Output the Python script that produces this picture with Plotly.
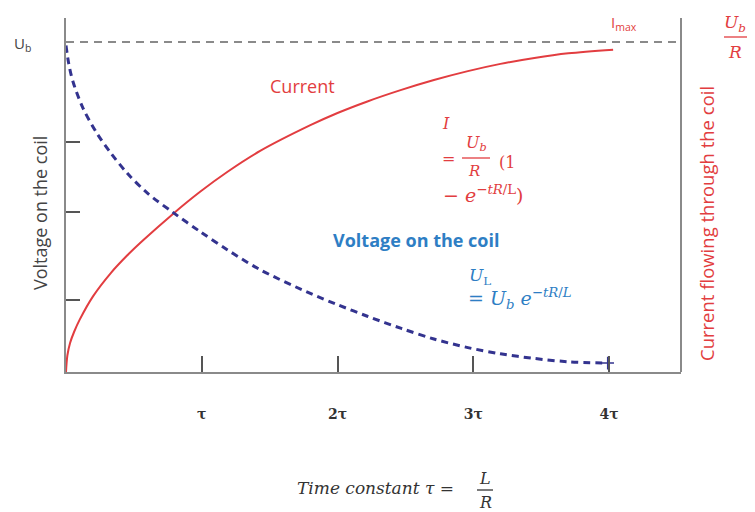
import plotly.graph_objects as go

# ---- data (time in units of tau, values relative to Ub or Ub/R) ----
current_t = [0.0, 0.01, 0.03, 0.06, 0.10, 0.20, 0.33, 0.45, 0.57, 0.79, 0.99, 1.19, 1.43,
             1.80, 2.00, 2.22, 2.47, 2.71, 2.96, 3.20, 3.45, 3.70, 4.03]
current_v = [0.0, 0.050, 0.088, 0.122, 0.158, 0.230, 0.300, 0.353, 0.400, 0.480, 0.547,
             0.607, 0.670, 0.748, 0.785, 0.820, 0.855, 0.885, 0.912, 0.934, 0.952, 0.966,
             0.977]

voltage_t = [0.0, 0.02, 0.05, 0.125, 0.23, 0.33, 0.45, 0.60, 0.79, 0.99, 1.19, 1.43, 1.80,
             2.00, 2.22, 2.47, 2.71, 2.96, 3.20, 3.45, 3.70, 3.99]
voltage_v = [0.99, 0.935, 0.882, 0.800, 0.722, 0.664, 0.603, 0.542, 0.483, 0.425, 0.370,
             0.310, 0.238, 0.204, 0.169, 0.132, 0.100, 0.074, 0.055, 0.041, 0.031, 0.027]

x_tick_vals = [1, 2, 3, 4]
x_tick_text = ["τ", "2τ", "3τ", "4τ"]
y_tick_vals = [0.218, 0.485, 0.697]
ub_level = 1.0

X_RANGE = [0, 4.53]
Y_RANGE = [0, 1.073]

RED = "#e23d40"
NAVY = "#33338f"
BLUE_TXT = "#2e7ec4"
GRAY = "#8a8a8a"
TXT = "#4a4a4a"
SER = "DejaVu Serif"
SANS = "Open Sans"

# plot area in pixels
L, R, T, B = 66, 681, 18, 372
W, H = 755, 512


def px(x):
    return (x - L) / (R - L)


def py(y):
    return (B - y) / (B - T)


fig = go.Figure()

fig.add_trace(go.Scatter(
    x=current_t, y=current_v, mode="lines",
    line=dict(color=RED, width=2, shape="spline", smoothing=0.9),
    hoverinfo="skip", showlegend=False))

fig.add_trace(go.Scatter(
    x=voltage_t, y=voltage_v, mode="lines",
    line=dict(color=NAVY, width=3, dash="7px,5px", shape="spline", smoothing=0.9),
    hoverinfo="skip", showlegend=False))

# end marker on the voltage curve
fig.add_trace(go.Scatter(
    x=voltage_t[-1:], y=voltage_v[-1:], mode="markers",
    marker=dict(symbol="cross-thin", size=9, line=dict(color=NAVY, width=1.5)),
    hoverinfo="skip", showlegend=False))

# Ub level dashed line
fig.add_shape(type="line", xref="paper", yref="y", x0=0, x1=1, y0=ub_level, y1=ub_level,
              line=dict(color=GRAY, width=2, dash="8px,6px"))

# right axis line
fig.add_shape(type="line", xref="paper", yref="paper", x0=1, x1=1, y0=0, y1=1,
              line=dict(color=GRAY, width=2))

fig.update_xaxes(range=X_RANGE, showgrid=False, zeroline=False, showline=True,
                 linecolor=GRAY, linewidth=2, ticks="inside", ticklen=16, tickwidth=1.5,
                 tickcolor="#555", tickvals=x_tick_vals,
                 ticktext=["<b>%s</b>" % t for t in x_tick_text],
                 tickfont=dict(family=SER, size=14, color="#333"),
                 ticklabelstandoff=28)
fig.update_yaxes(range=Y_RANGE, showgrid=False, zeroline=False, showline=True,
                 linecolor=GRAY, linewidth=2, ticks="inside", ticklen=14, tickwidth=1.5,
                 tickcolor="#555", tickvals=y_tick_vals, ticktext=["", "", ""])

ann = []


def A(text, x, y, size=13, color=TXT, family=SANS, angle=0, xanchor="center"):
    ann.append(dict(text=text, x=px(x), y=py(y), xref="paper", yref="paper",
                    showarrow=False, font=dict(size=size, color=color, family=family),
                    textangle=angle, xanchor=xanchor, yanchor="middle"))


def bar(x0, x1, y, color):
    fig.add_shape(type="line", xref="paper", yref="paper", x0=px(x0), x1=px(x1),
                  y0=py(y), y1=py(y), line=dict(color=color, width=1.3))


A("U<sub>b</sub>", 22, 44, size=15, color="#444")
A("Voltage on the coil", 40, 213, size=18, color="#444", angle=-90)
A("Current flowing through the coil", 706, 224, size=18.5, color=RED, angle=-90)
A("I<sub>max</sub>", 624, 23, size=15, color=RED)
A("Current", 302, 86, size=18, color=RED)

# top-right Ub / R
A("<i>U<sub>b</sub></i>", 735, 24, size=17, color=RED, family=SER)
bar(724, 747, 37, RED)
A("<i>R</i>", 735, 52, size=17, color=RED, family=SER)

# red formula
A("<i>I</i>", 446, 123, size=16, color=RED, family=SER)
A("=", 448, 158, size=16, color=RED, family=SER)
A("<i>U<sub>b</sub></i>", 476, 143, size=16, color=RED, family=SER)
bar(462, 490, 158, RED)
A("<i>R</i>", 474, 171, size=15, color=RED, family=SER)
A("(1", 507, 162, size=16, color=RED, family=SER)
A("− <i>e</i><sup>−<i>tR</i>/L</sup>)", 441, 194, size=19, color=RED, family=SER,
  xanchor="left")

# blue labels
A("<b>Voltage on the coil</b>", 416, 240, size=18, color=BLUE_TXT)
A("<i>U</i><sub>L</sub>", 467, 276, size=17, color=BLUE_TXT, family=SER, xanchor="left")
A("= <i>U<sub>b</sub> e</i><sup>−<i>tR</i>/<i>L</i></sup>", 466, 298, size=19,
  color=BLUE_TXT, family=SER, xanchor="left")

# bottom title: Time constant tau = L / R
A("<i>Time constant τ =</i>", 375, 488, size=17, color="#333", family=SER)
A("<i>L</i>", 485, 478, size=16, color="#333", family=SER)
bar(477, 493, 490, "#333")
A("<i>R</i>", 485, 502, size=16, color="#333", family=SER)

fig.update_layout(
    width=W, height=H,
    margin=dict(l=L, r=W - R, t=T, b=H - B),
    plot_bgcolor="white", paper_bgcolor="white",
    annotations=ann, showlegend=False,
)

fig.write_html("out.html")
